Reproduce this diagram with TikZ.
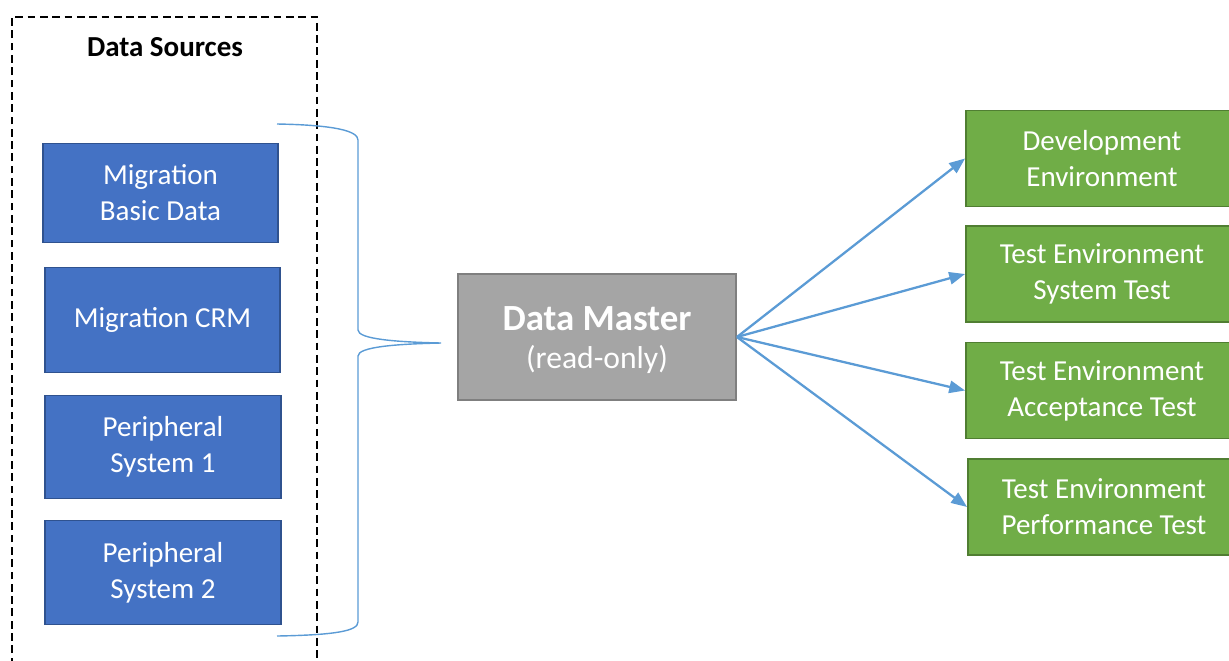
\documentclass[tikz,border=0pt]{standalone}
\usepackage{fontspec}
\setmainfont{Carlito}
\usetikzlibrary{arrows.meta}
\definecolor{cblue}{HTML}{4472C4}
\definecolor{cblueline}{HTML}{2F528F}
\definecolor{cgreen}{HTML}{70AD47}
\definecolor{cgreenline}{HTML}{507E32}
\definecolor{cgrey}{HTML}{A5A5A5}
\definecolor{cgreyline}{HTML}{7F7F7F}
\definecolor{clink}{HTML}{5B9BD5}
\tikzset{
  every picture/.style={line width=1.1pt},
  box/.style={draw=#1line, fill=#1, text=white, align=center, inner sep=2pt,
    font=\fontsize{16.5}{20.5}\selectfont},
  box/.default=cblue,
  arrow/.style={-{Triangle[length=9pt, width=7pt]}, draw=clink, line width=1.3pt},
  title/.style={font=\fontsize{16.5}{20}\selectfont\bfseries},
}

\begin{document}
\begin{tikzpicture}[x=0.02cm, y=-0.02cm,
  src/.style={box=cblue, minimum width=4.71cm},
  env/.style={box=cgreen, minimum width=5.44cm, minimum height=1.92cm}]
  \clip (0,0) rectangle (1229,660);
  % ---- data sources
  \draw[black, line width=1.5pt, dash pattern=on 4.4pt off 2.6pt] (12,690) -- (12,17) -- (317,17) -- (317,690);
  \node[title] (srctitle) at (165,47) {Data Sources};
  \node[src, minimum height=1.98cm] (src1) at (160.5,193) {Migration\\Basic Data};
  \node[src, minimum height=2.10cm] (src2) at (162.5,320) {Migration CRM};
  \node[src, minimum height=2.06cm] (src3) at (163,447) {Peripheral\\System 1};
  \node[src, minimum height=2.08cm] (src4) at (163,572.5) {Peripheral\\System 2};
  % brace
  \coordinate (bracetip) at (441,343);
  \draw[clink, line width=0.8pt] (277,124) .. controls (335,125) and (358,131) .. (358,140)
    -- (358,330) .. controls (358,339) and (395,342) .. (bracetip)
    .. controls (395,344) and (358,347) .. (358,356)
    -- (358,622) .. controls (358,631) and (335,635) .. (277,636);
  % ---- master
  \node[box=cgrey, minimum width=5.56cm, minimum height=2.52cm] (master) at (597,337)
    {\raisebox{-2.9pt}[\height][\depth]{\begin{tabular}{@{}c@{}}
      {\fontsize{21}{23}\selectfont\bfseries Data Master}\\[1pt]
      {\fontsize{18}{20}\selectfont (read-only)}\end{tabular}}};
  % ---- environments
  \node[env] (env1) at (1102,158.5) {Development\\Environment};
  \node[env] (env2) at (1102,274) {Test Environment\\System Test};
  \node[env] (env3) at (1102,390.5) {Test Environment\\Acceptance Test};
  \node[env] (env4) at (1104,507) {Test Environment\\Performance Test};
  \foreach \j in {1,2,3,4} \draw[arrow] (master.east) -- (env\j.west);
\end{tikzpicture}
\end{document}
